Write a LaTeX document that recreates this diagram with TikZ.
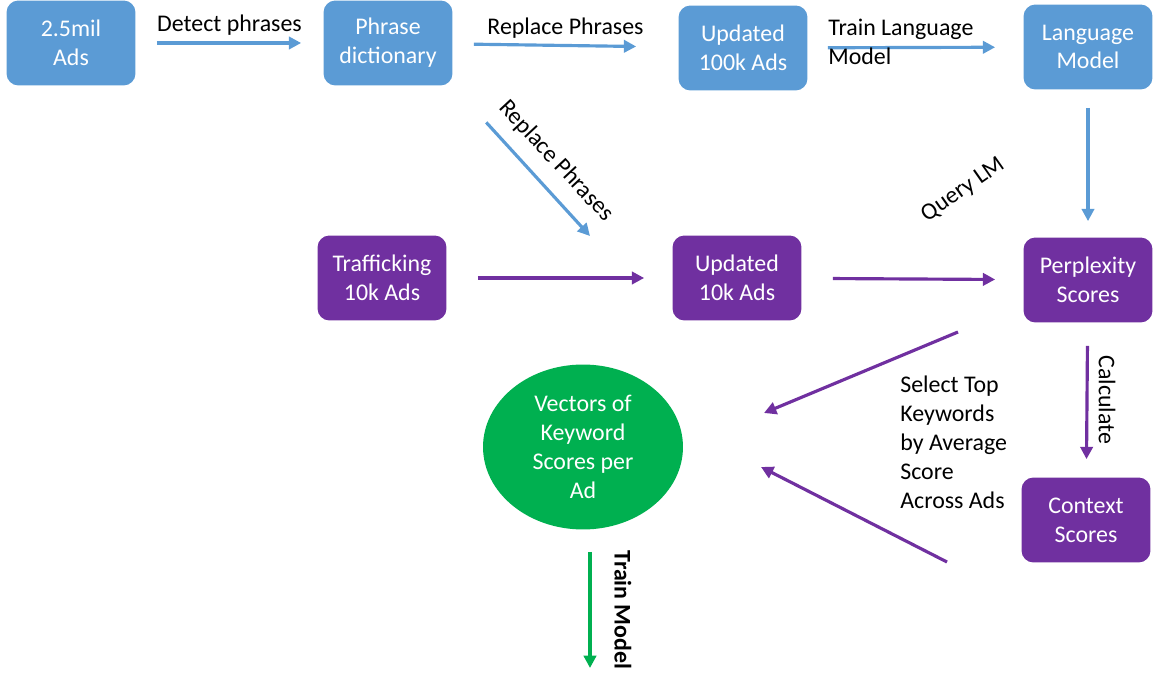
\documentclass[tikz,border=0pt]{standalone}
\usepackage{fontspec}
\setmainfont{Carlito}
\usetikzlibrary{arrows.meta,shapes.geometric}
\definecolor{adblue}{HTML}{5B9BD5}
\definecolor{adpurple}{HTML}{7030A0}
\definecolor{adgreen}{HTML}{00B050}
\begin{document}
\begin{tikzpicture}[x = 0.02cm, y = -0.02cm,
		font = \fontsize{13.6}{16.4}\selectfont,
		box/.style = {rounded corners = 6.8pt, minimum width = 2.58cm, minimum height = 1.7cm, align = center, text = white},
		bluebox/.style = {box, fill = adblue},
		purplebox/.style = {box, fill = adpurple},
		flow/.style = {line width = 1.8pt, -{Triangle[length = 7pt, width = 7pt]}},
		lbl/.style = {inner sep = 0pt}]
			\useasboundingbox (0,0) rectangle (1157,678);
			% first row
			\node[bluebox] (raw) at (71,43) {2.5mil\\Ads};
			\node[bluebox] (dict) at (388,43) {Phrase\\dictionary};
			\node[bluebox] (upd100) at (743,48) {Updated\\100k Ads};
			\node[bluebox] (lm) at (1088,47) {Language\\Model};
			% second row
			\node[purplebox] (traf) at (382,278) {Trafficking\\10k Ads};
			\node[purplebox] (upd10) at (737,278) {Updated\\10k Ads};
			\node[purplebox] (perp) at (1088,280) {Perplexity\\Scores};
			\node[purplebox] (ctx) at (1086,520) {Context\\Scores};
			\node[ellipse, fill = adgreen, text = white, inner sep = 0pt, minimum width = 4cm, minimum height = 3.3cm, align = center] (vec) at (583,447) {Vectors of\\Keyword\\Scores per\\Ad};
			% free ends
			\coordinate (rpend) at (590,236);
			\coordinate (selA) at (958,332);
			\coordinate (selAend) at (764,413);
			\coordinate (selB) at (947,562);
			\coordinate (selBend) at (761,467);
			\coordinate (out) at (590,668);
			% blue arrows
			\draw[adblue, flow, shorten <= 0.42cm, shorten >= 0.44cm] (raw) -- (dict) node[midway, anchor = south, black]{Detect phrases};
			\draw[adblue, flow, shorten <= 0.42cm, shorten >= 0.84cm] (dict) -- (upd100) node[midway, anchor = south, black]{Replace Phrases};
			\draw[adblue, flow, shorten <= 0.40cm, shorten >= 0.56cm] (upd100) -- (lm);
			\node[lbl, anchor = north west, align = left] (trainlbl) at (828,19) {Train Language\\Model};
			\draw[adblue, flow, shorten <= 0.99cm] (dict.south east) -- (rpend);
			\node[lbl, rotate = -47] (rplbl) at (556,161) {Replace Phrases};
			\draw[adblue, flow, shorten <= 0.36cm, shorten >= 0.32cm] (lm) -- (perp);
			% purple arrows
			\draw[adpurple, flow, shorten <= 0.62cm, shorten >= 0.56cm] (traf) -- (upd10);
			\draw[adpurple, flow, shorten <= 0.62cm, shorten >= 0.56cm] (upd10) -- (perp);
			\node[lbl, rotate = 35] (querylbl) at (963,190) {Query LM};
			\draw[adpurple, flow, shorten <= 0.46cm, shorten >= 0.36cm] (perp) -- (ctx);
			\node[lbl, rotate = -90] (calclbl) at (1107,400) {Calculate};
			\draw[adpurple, flow] (selA) -- (selAend);
			\draw[adpurple, flow] (selB) -- (selBend);
			\node[lbl, anchor = north west, align = left] (sellbl) at (900,376) {Select Top\\Keywords\\by Average\\Score\\Across Ads};
			% green arrow
			\draw[adgreen, flow, shorten <= 0.44cm] (vec.south -| out) -- (out);
			\node[lbl, rotate = -90, font = \fontsize{13.6}{16.4}\selectfont\bfseries] (modellbl) at (623,610) {Train Model};
		\end{tikzpicture}
\end{document}
